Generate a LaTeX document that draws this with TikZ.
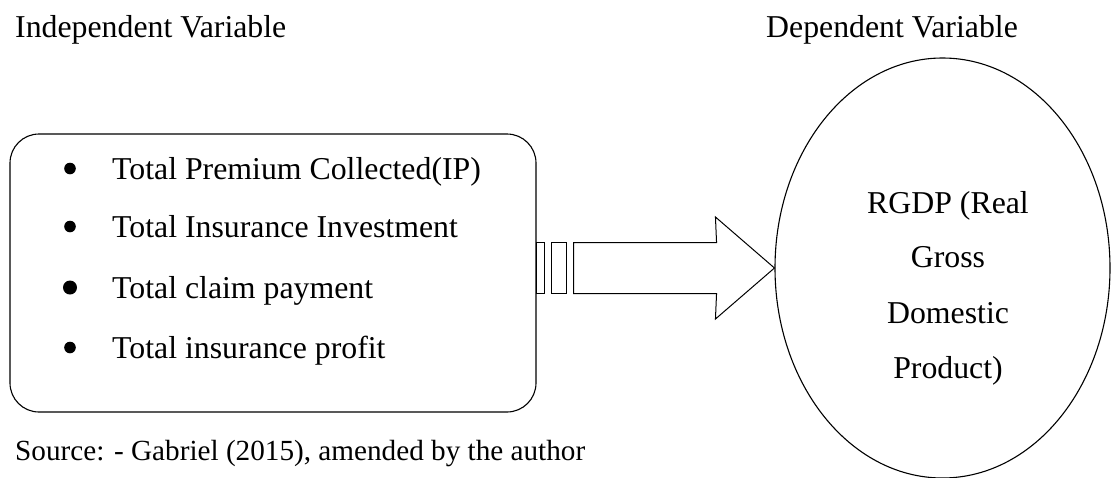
\documentclass[tikz,border=0pt]{standalone}
\usepackage{fontspec}
\setmainfont{Liberation Serif}
\usetikzlibrary{shapes.geometric,calc}
\begin{document}
\begin{tikzpicture}[x=1pt,y=-1pt,
  txt/.style={inner sep=0pt, font=\fontsize{31.8}{38}\selectfont},
  smalltxt/.style={inner sep=0pt, font=\fontsize{29.2}{35}\selectfont},
  shapeline/.style={draw=black, line width=1.1pt},
  bul/.style={fill=black}]
\useasboundingbox (0,0) rectangle (1111,477);
% headings
\node[txt, anchor=base west] (indep) at (15,37) {Independent Variable};
\node[txt, anchor=base east] (dep) at (1018,37) {Dependent Variable};
% box
\node[shapeline, rounded corners=29pt, minimum width=526pt, minimum height=278pt, inner sep=0pt] (box) at (273,273) {};
\node[txt, anchor=base west] (i1) at (112,179) {Total Premium Collected(IP)};
\node[txt, anchor=base west] (i2) at (112,237) {Total Insurance Investment};
\node[txt, anchor=base west] (i3) at (112,298) {Total claim payment};
\node[txt, anchor=base west] (i4) at (112,358) {Total insurance profit};
\fill[bul] ($(i1.base west)+(-42,-10.5)$) circle (5.8);
\fill[bul] ($(i2.base west)+(-42,-10.5)$) circle (5.8);
\fill[bul] ($(i3.base west)+(-42,-10.5)$) circle (7);
\fill[bul] ($(i4.base west)+(-42,-10.5)$) circle (5.8);
\node[smalltxt, anchor=base west] (src) at (15,460) {Source: - Gabriel (2015), amended by the author};
% ellipse
\node[shapeline, ellipse, minimum width=335pt, minimum height=420pt, inner sep=0pt] (ell) at (942.5,268) {};
\node[txt, anchor=base] (r1) at (948,213) {RGDP (Real};
\node[txt, anchor=base] (r2) at (948,267) {Gross};
\node[txt, anchor=base] (r3) at (948,323) {Domestic};
\node[txt, anchor=base] (r4) at (948,378) {Product)};
% block arrow from box to ellipse
\coordinate (tip) at (ell.west);
\coordinate (start) at (box.east |- tip);
\draw[shapeline, line width=1pt] ($(start)+(0,-25.5)$) rectangle ($(start)+(8,25.5)$);
\draw[shapeline, line width=1pt] ($(start)+(15,-25.5)$) rectangle ($(start)+(30,25.5)$);
\draw[shapeline, line width=1pt, line join=miter]
  ($(start)+(37,-25.5)$) -- ($(start |- tip)+(180,-25.5)$) -- ($(tip)+(-59,-51)$)
  -- (tip) -- ($(tip)+(-59,51)$) -- ($(start |- tip)+(180,25.5)$) -- ($(start)+(37,25.5)$) -- cycle;
\end{tikzpicture}
\end{document}
